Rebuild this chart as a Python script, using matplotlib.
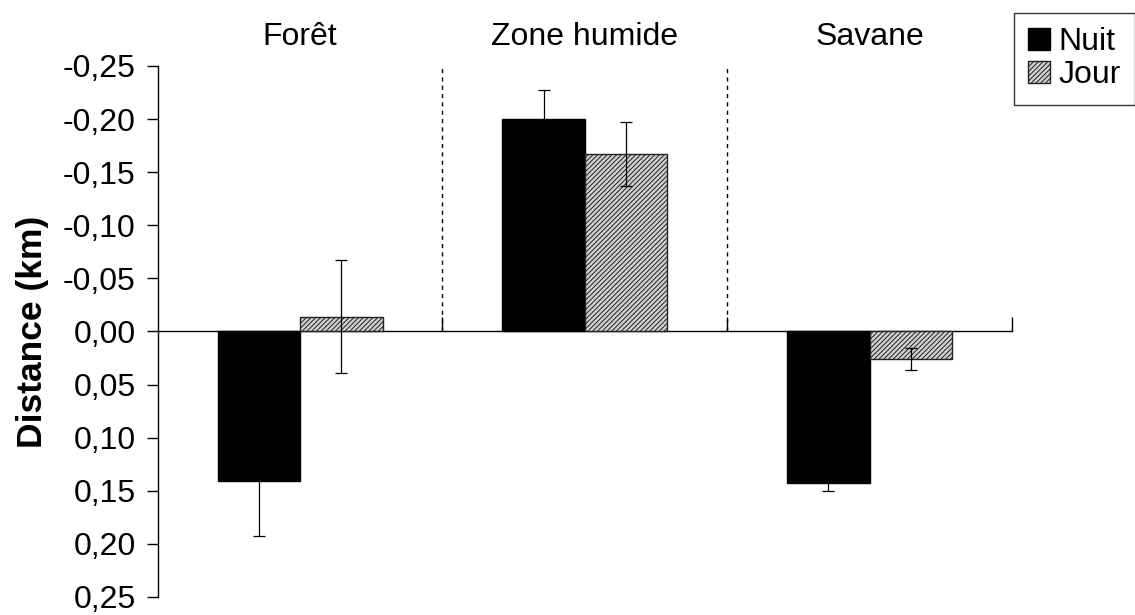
import matplotlib
matplotlib.use("Agg")
import matplotlib.pyplot as plt
import numpy as np
from matplotlib.patches import Patch

plt.rcParams['font.family'] = ['Liberation Sans', 'DejaVu Sans']
plt.rcParams['hatch.linewidth'] = 0.7
plt.rcParams['hatch.color'] = '#444444'

categories = ["Forêt", "Zone humide", "Savane"]
series = ["Nuit", "Jour"]
nuit = [0.141, -0.200, 0.143]
jour = [-0.014, -0.167, 0.026]
nuit_err = [0.052, 0.027, 0.007]
jour_err = [0.053, 0.030, 0.010]
yticks = [-0.25, -0.20, -0.15, -0.10, -0.05, 0.00, 0.05, 0.10, 0.15, 0.20, 0.25]
ytick_labels = ["-0,25", "-0,20", "-0,15", "-0,10", "-0,05", "0,00",
                "0,05", "0,10", "0,15", "0,20", "0,25"]

fig = plt.figure(figsize=(11.35, 6.15), dpi=100)
ax = fig.add_axes([0.139, 0.0293, 0.7526, 0.8634])

x = np.arange(1, len(categories) + 1)
w = 0.29
ekw = dict(ecolor='black', elinewidth=0.9, capsize=4, capthick=0.9)
ax.bar(x - w / 2, nuit, width=w, color='black', edgecolor='black', linewidth=1,
       yerr=nuit_err, error_kw=ekw, zorder=3)
ax.bar(x + w / 2, jour, width=w, color='#cfcfcf', edgecolor='#222222', linewidth=1,
       hatch='///////', yerr=jour_err, error_kw=ekw, zorder=3)

ax.set_xlim(0.5, len(categories) + 0.5)
ax.set_ylim(0.25, -0.25)
ax.set_yticks(yticks)
ax.set_yticklabels(ytick_labels, fontsize=23)
ax.tick_params(axis='y', direction='out', length=8, width=1, pad=8)

ax.spines['top'].set_visible(False)
ax.spines['right'].set_visible(False)
ax.spines['bottom'].set_position(('data', 0))
ax.spines['bottom'].set_linewidth(1)
ax.spines['left'].set_linewidth(1)
ax.set_xticks(x + 0.5)
ax.set_xticklabels([])
ax.tick_params(axis='x', direction='in', length=10, width=1)

# dashed separators
for b in x[:-1] + 0.5:
    ax.vlines(b, 0, -0.25, colors='black', linestyles=(0, (3, 3)), linewidth=1, zorder=2)

# category titles
for xi, name in zip(x, categories):
    ax.text(xi, 1.055, name, transform=ax.get_xaxis_transform(),
            ha='center', va='center', fontsize=23)

ax.set_ylabel("Distance (km)", fontsize=25.5, fontweight='bold', labelpad=10)

handles = [Patch(facecolor='black', edgecolor='black'),
           Patch(facecolor='#cfcfcf', edgecolor='#222222', hatch='///////')]
leg = fig.legend(handles, series, loc='upper right', bbox_to_anchor=(1.0, 0.979),
                 fontsize=23, frameon=True, fancybox=False, edgecolor='black',
                 handlelength=0.7, handleheight=0.7, handletextpad=0.25,
                 borderpad=0.45, labelspacing=0.1, borderaxespad=0)
leg.get_frame().set_linewidth(1)

fig.savefig("out.png", dpi=100)
